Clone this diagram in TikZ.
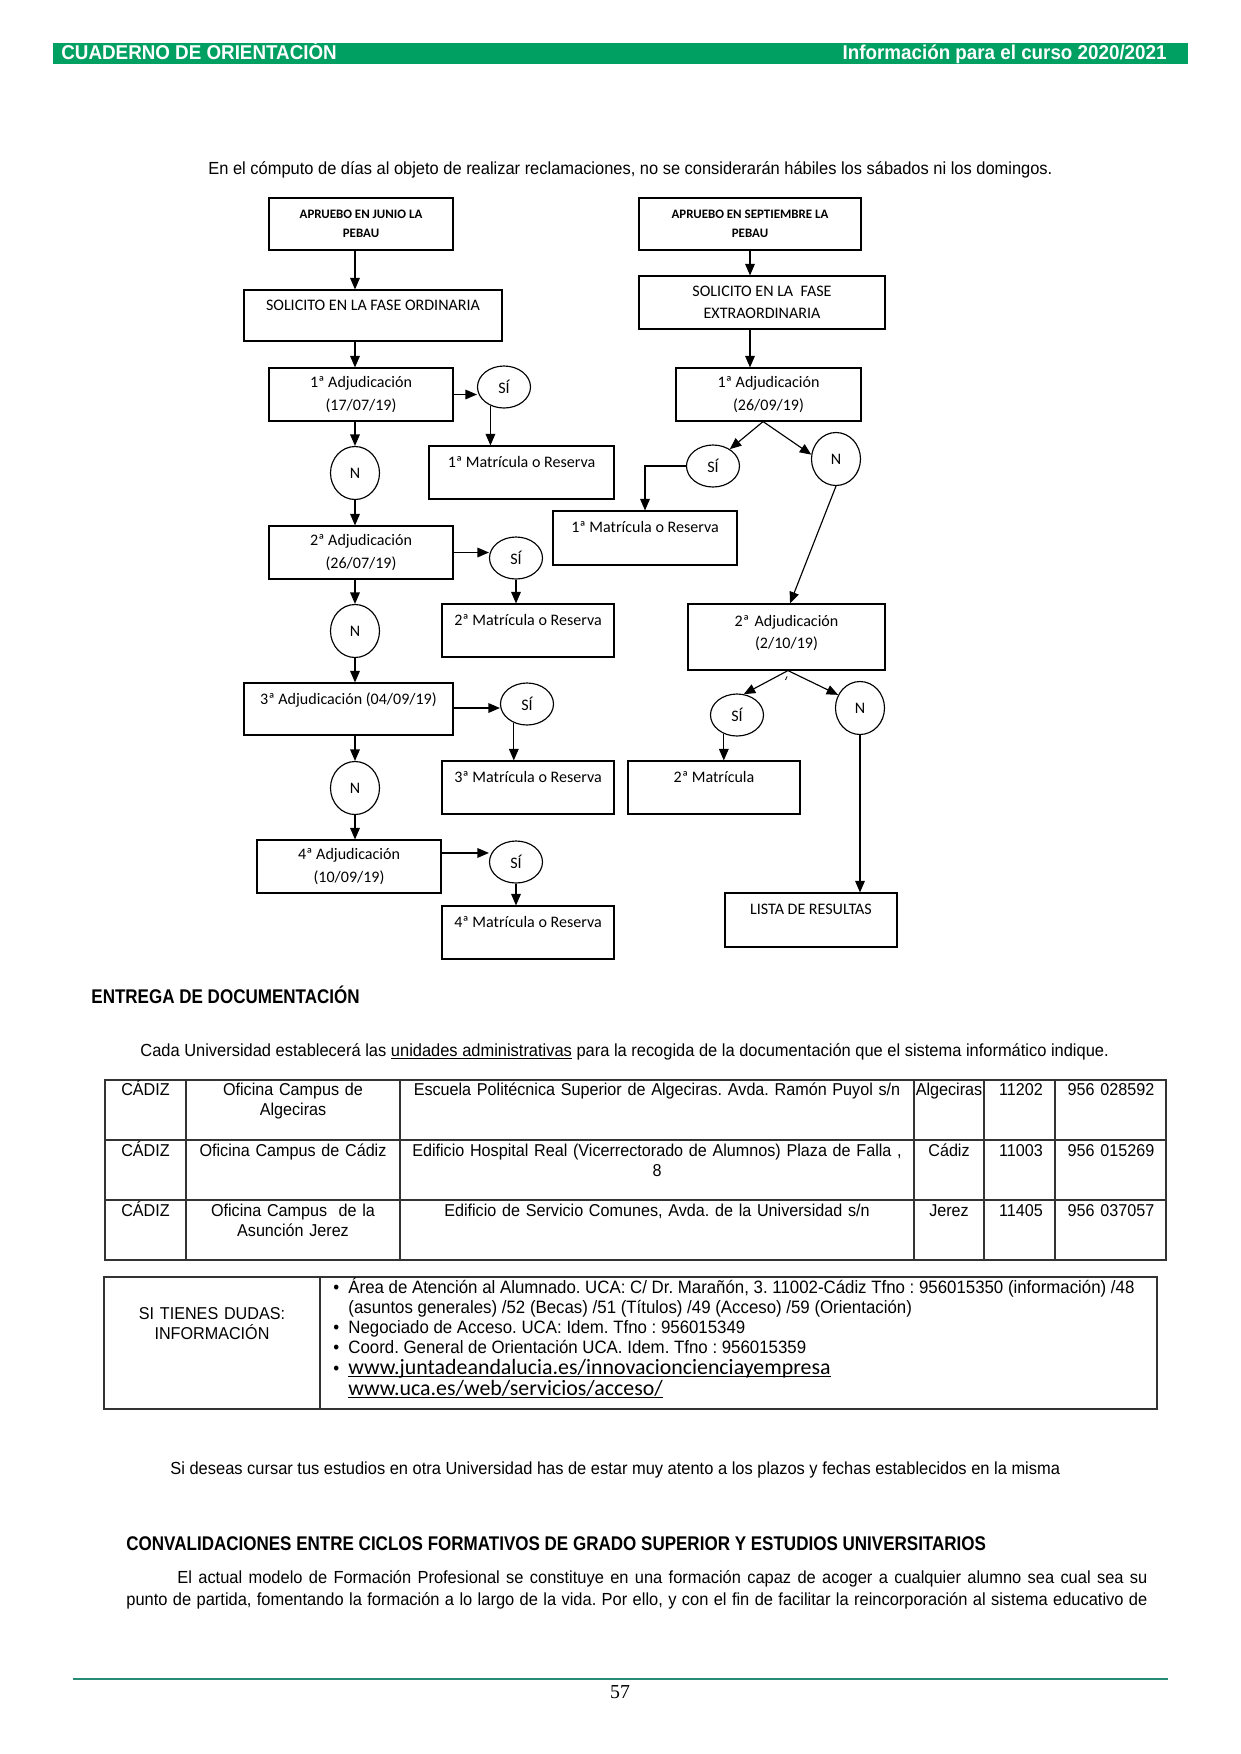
\documentclass[tikz,border=0pt]{standalone}
\usepackage{fontspec}
\setmainfont{Liberation Sans}
\newfontfamily\cond[FakeStretch=0.94]{Liberation Sans}
\newfontfamily\condh[FakeStretch=0.86]{Liberation Sans}
\newfontfamily\calib{Carlito}
\newfontfamily\tms{Liberation Serif}
\usetikzlibrary{arrows.meta,shapes.geometric}
\definecolor{hdrgreen}{RGB}{0,160,98}
\definecolor{footteal}{RGB}{38,140,118}
\newcommand\myul[1]{\setbox0\hbox{#1}\rlap{\rule[-1.3pt]{\wd0}{0.45pt}}\box0\relax}
\begin{document}
\frenchspacing
\begin{tikzpicture}[x=0.48pt,y=-0.48pt,
  fbox/.style={draw, line width=0.55pt, rectangle, inner sep=0pt, align=center, font=\calib\fontsize{7.7}{10.7}\selectfont},
  hbox/.style={fbox, font=\calib\bfseries\fontsize{6.2}{9.1}\selectfont},
  wh/.style 2 args={minimum width={#1*0.48pt}, minimum height={#2*0.48pt}},
  ov/.style 2 args={draw, line width=0.55pt, ellipse, inner sep=0pt, minimum width={#1*0.48pt}, minimum height={#2*0.48pt}, font=\calib\fontsize{7.7}{9}\selectfont},
  sicirc/.style={ov={53}{42}},
  nocirc/.style={ov={49}{53}},
  toplbl/.style={anchor=base, yshift=-10.5pt, inner sep=0pt, font=\calib\fontsize{7.7}{9}\selectfont},
  arr/.style={line width=0.55pt, -{Triangle[length=5.5pt,width=4.6pt]}},
  ln/.style={line width=0.55pt},
  hdr/.style={inner sep=0pt, text=white, font=\cond\bfseries\fontsize{9.6}{11}\selectfont},
  body/.style={inner sep=0pt, font=\cond\fontsize{8.4}{9.7}\selectfont},
  bul/.style={inner sep=0pt, font=\cond\fontsize{8.6}{9.7}\selectfont},
  head/.style={inner sep=0pt, font=\condh\bfseries\fontsize{9.5}{11}\selectfont},
  cell/.style={inner sep=0pt, font=\cond\fontsize{8.25}{9.7}\selectfont, anchor=base, align=center, text width=260pt},
  tbl/.style={line width=0.5pt, draw=black!80},
]
\useasboundingbox (0,0) rectangle (1241,1754);
\fill[white] (0,0) rectangle (1241,1754);

% header bar
\fill[hdrgreen] (53,43) rectangle (1188,64);
\node[hdr, anchor=base west] (h1) at (61,59) {CUADERNO DE ORIENTACIÓN};
\node[hdr, anchor=base east] (h2) at (1167,59) {Información para el curso 2020/2021};

% intro
\node[body, anchor=base west] (intro) at (208,174) {En el cómputo de días al objeto de realizar reclamaciones, no se considerarán hábiles los sábados ni los domingos.};

% ---------- flowchart left column ----------
\node[hbox, wh={184}{52}] (L1) at (361,224) {APRUEBO EN JUNIO LA\\PEBAU};
\node[fbox, wh={258}{51}, label={[toplbl, yshift=0.5pt]north:SOLICITO EN LA FASE ORDINARIA}] (L2) at (373,315.5) {};
\node[fbox, wh={184}{53}] (L3) at (361,394.5) {1ª Adjudicación\\(17/07/19)};
\node[sicirc] (S1) at (504,387) {SÍ};
\node[fbox, wh={185}{53}, label={[toplbl]north:1ª Matrícula o Reserva}] (M1) at (521.5,472.5) {};
\node[nocirc] (N1) at (355,473) {N};
\node[fbox, wh={184}{53}] (L4) at (361,552.5) {2ª Adjudicación\\(26/07/19)};
\node[sicirc] (S2) at (516,558) {SÍ};
\node[fbox, wh={172}{53}, label={[toplbl]north:2ª Matrícula o Reserva}] (M2) at (528,630.5) {};
\node[nocirc] (N2) at (355,631) {N};
\node[fbox, wh={209}{52}, label={[toplbl]north:3ª Adjudicación (04/09/19)}] (L5) at (348.5,709) {};
\node[sicirc] (S3) at (527,704) {SÍ};
\node[fbox, wh={172}{53}, label={[toplbl]north:3ª Matrícula o Reserva}] (M3) at (528,787.5) {};
\node[nocirc] (N3) at (355,788) {N};
\node[fbox, wh={184}{53}] (L6) at (349,866.5) {4ª Adjudicación\\(10/09/19)};
\node[sicirc] (S4) at (516,862) {SÍ};
\node[fbox, wh={172}{53}, label={[toplbl]north:4ª Matrícula o Reserva}] (M4) at (528,932.5) {};

\draw[arr] (L1.south -| N1) -- (L2.north -| N1);
\draw[arr] (L2.south -| N1) -- (L3.north -| N1);
\draw[arr] (L3.south -| N1) -- (N1.north);
\draw[arr] (N1.south) -- (L4.north -| N1);
\draw[arr] (L4.south -| N1) -- (N2.north);
\draw[arr] (N2.south) -- (L5.north -| N2);
\draw[arr] (L5.south -| N2) -- (N3.north);
\draw[arr] (N3.south) -- (L6.north -| N3);

\draw[arr] (L3.east) -- (L3.east -| S1.west);
\draw[arr] (L4.east) -- (L4.east -| S2.west);
\draw[arr] (L5.east |- S3.west) ++(0,4) coordinate (l5e) -- (l5e -| S3.west);
\draw[arr] ([yshift=6.5pt]L6.east) -- ([yshift=6.5pt]L6.east -| S4.west);

\draw[arr] (S1.-126) -- (S1.-126 |- M1.north);
\draw[arr] (S2.south) -- (S2.south |- M2.north);
\draw[arr] (S3.-125) -- (S3.-125 |- M3.north);
\draw[arr] (S4.south) -- (S4.south |- M4.north);

% ---------- flowchart right column ----------
\node[hbox, wh={222}{52}] (R1) at (750,224) {APRUEBO EN SEPTIEMBRE LA\\PEBAU};
\node[fbox, wh={246}{53}] (R2) at (762,302.5) {SOLICITO EN LA\ \ FASE\\EXTRAORDINARIA};
\node[fbox, wh={185}{53}] (R3) at (768.5,394.5) {1ª Adjudicación\\(26/09/19)};
\node[sicirc] (S5) at (713,466) {SÍ};
\node[nocirc] (N5) at (836,459) {N};
\node[fbox, wh={184}{54}, label={[toplbl]north:1ª Matrícula o Reserva}] (M5) at (645,538) {};
\node[fbox, wh={197}{66}] (R4) at (786.5,637) {};
\node[inner sep=0pt, align=center, text width=120pt, anchor=center, font=\calib\fontsize{7.7}{10.7}\selectfont] (R4t) at (786.5,633) {2ª Adjudicación\\(2/10/19)};
\node[sicirc] (S6) at (737,715) {SÍ};
\node[nocirc] (N6) at (860,708) {N};
\node[fbox, wh={172}{53}, label={[toplbl]north:2ª Matrícula}] (M6) at (714,787.5) {};
\node[fbox, wh={172}{54}, label={[toplbl]north:LISTA DE RESULTAS}] (M7) at (811,920) {};

\draw[arr] (R1.south) -- (R2.north -| R1.south);
\draw[arr] (R2.south -| R1.south) -- (R3.north -| R1.south);
\draw[arr] ([xshift=-2.6pt]R3.south) -- (S5.45);
\draw[arr] ([xshift=-2.6pt]R3.south) -- (N5.170);
\draw[arr] (S5.west) -| (M5.north);
\draw[arr] (N5.south) -- ([xshift=1.7pt]R4.north);
\draw[line width=0.4pt] ([shift={(-0.5pt,-4.5pt)}]R4.south) -- ([shift={(0.3pt,-2.8pt)}]R4.south);
\draw[arr] ([xshift=0.7pt]R4.south) -- (S6.72);
\draw[arr] ([xshift=0.7pt]R4.south) -- (N6.149);
\draw[arr] (S6.-125) -- (S6.-125 |- M6.north);
\draw[arr] (N6.south) -- (N6.south |- M7.north);

% ---------- Entrega de documentacion ----------
\node[head, anchor=base west] (e1) at (91,1003) {ENTREGA DE DOCUMENTACIÓN};
\node[body, anchor=base west] (e2) at (140,1056) {Cada Universidad establecerá las \myul{unidades administrativas} para la recogida de la documentación que el sistema informático indique.};

% table 1
\draw[tbl] (105,1080) rectangle (1166,1260);
\draw[tbl] (105,1140) -- (1166,1140);
\draw[tbl] (105,1200) -- (1166,1200);
\foreach \cx in {186,400,914,984,1055} \draw[tbl] (\cx,1080) -- (\cx,1260);

\node[cell] (c11) at (145.5,1095) {CÁDIZ};
\node[cell] (c12) at (293,1095) {Oficina Campus de\\Algeciras};
\node[cell] (c13) at (657,1095) {Escuela Politécnica Superior de Algeciras. Avda. Ramón Puyol s/n};
\node[cell] (c14) at (949,1095) {Algeciras};
\node[cell] (c15) at (1021,1095) {11202};
\node[cell] (c16) at (1111,1095) {956 028592};

\node[cell] (c21) at (145.5,1156) {CÁDIZ};
\node[cell] (c22) at (293,1156) {Oficina Campus de Cádiz};
\node[cell] (c23) at (657,1156) {Edificio Hospital Real (Vicerrectorado de Alumnos) Plaza de Falla ,\\8};
\node[cell] (c24) at (949,1156) {Cádiz};
\node[cell] (c25) at (1021,1156) {11003};
\node[cell] (c26) at (1111,1156) {956 015269};

\node[cell] (c31) at (145.5,1216) {CÁDIZ};
\node[cell] (c32) at (293,1216) {Oficina Campus\ \ de la\\Asunción Jerez};
\node[cell] (c33) at (657,1216) {Edificio de Servicio Comunes, Avda. de la Universidad s/n};
\node[cell] (c34) at (949,1216) {Jerez};
\node[cell] (c35) at (1021,1216) {11405};
\node[cell] (c36) at (1111,1216) {956 037057};

% table 2
\draw[tbl] (104,1277) rectangle (1157,1409);
\draw[tbl] (320,1277) -- (320,1409);
\node[cell, text width=120pt] (q) at (212,1319) {SI TIENES DUDAS:\\INFORMACIÓN};
\node[bul, anchor=base west] (bl1) at (333,1293) {\textbullet};
\node[bul, anchor=base west] (b1) at (348,1293) {Área de Atención al Alumnado. UCA: C/ Dr. Marañón, 3. 11002-Cádiz Tfno : 956015350 (información) /48};
\node[bul, anchor=base west] (b2) at (348,1313) {(asuntos generales) /52 (Becas) /51 (Títulos) /49 (Acceso) /59 (Orientación)};
\node[bul, anchor=base west] (bl3) at (333,1333) {\textbullet};
\node[bul, anchor=base west] (b3) at (348,1333) {Negociado de Acceso. UCA: Idem. Tfno : 956015349};
\node[bul, anchor=base west] (bl4) at (333,1353) {\textbullet};
\node[bul, anchor=base west] (b4) at (348,1353) {Coord. General de Orientación UCA. Idem. Tfno : 956015359};
\node[bul, anchor=base west] (bl5) at (333,1374) {\textbullet};
\node[inner sep=0pt, anchor=base west, font=\calib\fontsize{10.5}{12}\selectfont] (b5) at (348,1374) {\myul{www.juntadeandalucia.es/innovacioncienciayempresa}};
\node[inner sep=0pt, anchor=base west, font=\calib\fontsize{10.5}{12}\selectfont] (b6) at (348,1395) {\myul{www.uca.es/web/servicios/acceso/}};

% closing text
\node[body, anchor=base west] (s1) at (170,1474) {Si deseas cursar tus estudios en otra Universidad has de estar muy atento a los plazos y fechas establecidos en la misma};
\node[head, anchor=base west] (cv) at (126,1550) {CONVALIDACIONES ENTRE CICLOS FORMATIVOS DE GRADO SUPERIOR Y ESTUDIOS UNIVERSITARIOS};
\node[body, anchor=base west] (p1) at (177,1583) {\makebox[465.6pt][s]{El actual modelo de Formación Profesional se constituye en una formación capaz de acoger a cualquier alumno sea cual sea su}};
\node[body, anchor=base west] (p2) at (126,1605) {\makebox[490.1pt][s]{punto de partida, fomentando la formación a lo largo de la vida. Por ello, y con el fin de facilitar la reincorporación al sistema educativo de}};

% footer
\draw[footteal, line width=0.8pt] (73,1679) -- (1168,1679);
\node[inner sep=0pt, anchor=base, font=\tms\fontsize{9.5}{11}\selectfont] (pg) at (620,1698) {57};
\end{tikzpicture}
\end{document}
